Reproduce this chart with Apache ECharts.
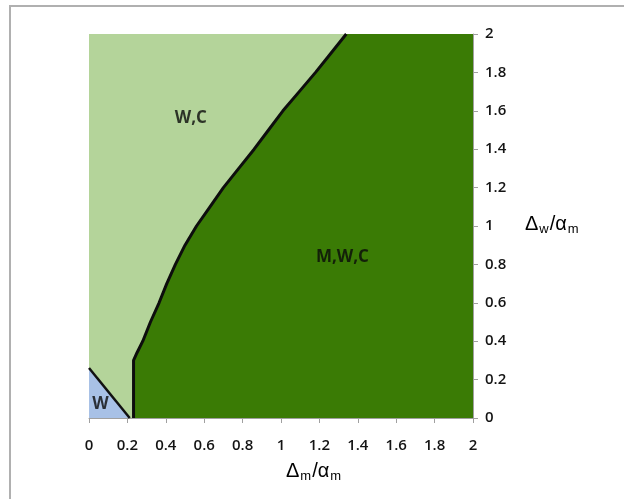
<!DOCTYPE html>
<html>
<head>
<meta charset="utf-8">
<script src="https://cdn.jsdelivr.net/npm/echarts@6/dist/echarts.min.js"></script>
<style>
html,body{margin:0;padding:0;background:#fff;}
#chart{width:624px;height:499px;}
</style>
</head>
<body>
<div id="chart"></div>
<script>
// Boundary between region "W,C" and region "M,W,C" (x = Δm/αm, y = Δw/αm)
const boundaryX = [0.232, 0.232, 0.25, 0.28, 0.32, 0.365, 0.405, 0.45, 0.50, 0.56, 0.63, 0.70, 0.78, 0.86, 0.935, 1.01, 1.095, 1.18, 1.26, 1.34];
const boundaryY = [0.00, 0.30, 0.34, 0.40, 0.50, 0.60, 0.70, 0.80, 0.90, 1.00, 1.10, 1.20, 1.30, 1.40, 1.50, 1.60, 1.70, 1.80, 1.90, 2.00];
// Boundary of region "W"
const wBoundaryX = [0, 0.212];
const wBoundaryY = [0.26, 0];
// Region labels
const regionNames = ['W,C', 'M,W,C', 'W'];
const regionLabelX = [0.53, 1.32, 0.06];
const regionLabelY = [1.56, 0.84, 0.07];
// Axis ticks
const xTicks = ['0', '0.2', '0.4', '0.6', '0.8', '1', '1.2', '1.4', '1.6', '1.8', '2'];
const yTicks = ['0', '0.2', '0.4', '0.6', '0.8', '1', '1.2', '1.4', '1.6', '1.8', '2'];
const axisMax = 2;

const boundary = boundaryX.map((x, i) => [x, boundaryY[i]]);
const darkArea = boundary.concat([[axisMax, axisMax]]);
const wLine = wBoundaryX.map((x, i) => [x, wBoundaryY[i]]);
const labels = regionNames.map((n, i) => ({ name: n, value: [regionLabelX[i], regionLabelY[i]] }));

const tickFont = { fontFamily: 'Open Sans', fontWeight: 600, fontSize: 15, color: '#141414' };

const chart = echarts.init(document.getElementById('chart'));
chart.setOption({
  backgroundColor: '#ffffff',
  animation: false,
  grid: { left: 89, right: 151, top: 34, bottom: 81, show: true, backgroundColor: '#b4d49a', borderColor: '#b4d49a', borderWidth: 0 },
  xAxis: {
    type: 'value', min: 0, max: axisMax, interval: 0.2,
    axisLine: { show: true, onZero: false, lineStyle: { color: '#a0a0a0', width: 1 } },
    axisTick: { show: true, length: 5, lineStyle: { color: '#a0a0a0' } },
    axisLabel: Object.assign({ margin: 20, formatter: v => xTicks[Math.round(v / 0.2)] }, tickFont),
    splitLine: { show: false }
  },
  yAxis: {
    type: 'value', min: 0, max: axisMax, interval: 0.2, position: 'right',
    axisLine: { show: true, onZero: false, lineStyle: { color: '#a0a0a0', width: 1 } },
    axisTick: { show: true, length: 5, lineStyle: { color: '#a0a0a0' } },
    axisLabel: Object.assign({ margin: 12, align: 'left', formatter: v => yTicks[Math.round(v / 0.2)] }, tickFont),
    splitLine: { show: false }
  },
  series: [
    {
      type: 'line', data: darkArea, symbol: 'none', silent: true,
      lineStyle: { width: 0, opacity: 0 },
      areaStyle: { color: '#3a7b05', opacity: 1, origin: 'start' },
      z: 2
    },
    {
      type: 'line', data: wLine, symbol: 'none', silent: true,
      lineStyle: { color: '#111', width: 2.5 },
      areaStyle: { color: '#a8c1e6', opacity: 1, origin: 'start' },
      z: 3
    },
    {
      type: 'line', data: boundary, symbol: 'none', silent: true,
      lineStyle: { color: '#0d0d0d', width: 3 },
      z: 4
    },
    {
      type: 'scatter', data: labels, symbolSize: 0, silent: true,
      label: {
        show: true, position: 'inside', formatter: p => p.name,
        fontFamily: 'Open Sans', fontWeight: 'bold', fontSize: 17, color: '#0a0a0a'
      },
      z: 5
    }
  ],
  graphic: [
    { type: 'polyline', shape: { points: [[10, 520], [10, 6], [640, 6]] }, style: { stroke: '#b0b0b0', lineWidth: 2, fill: null } },
    {
      type: 'text', left: 286, top: 461,
      style: {
        text: '{a|Δ}{s|m}{a|/α}{s|m}',
        rich: {
          a: { fontFamily: 'Liberation Sans', fontSize: 20, color: '#222' },
          s: { fontFamily: 'Liberation Sans', fontSize: 13, color: '#222', padding: [11, 1, 0, 1] }
        }
      }
    },
    {
      type: 'text', left: 525, top: 214,
      style: {
        text: '{a|Δ}{s|w}{a|/α}{s|m}',
        rich: {
          a: { fontFamily: 'Liberation Sans', fontSize: 20, color: '#222' },
          s: { fontFamily: 'Liberation Sans', fontSize: 13, color: '#222', padding: [11, 1, 0, 1] }
        }
      }
    }
  ]
});
</script>
</body>
</html>
